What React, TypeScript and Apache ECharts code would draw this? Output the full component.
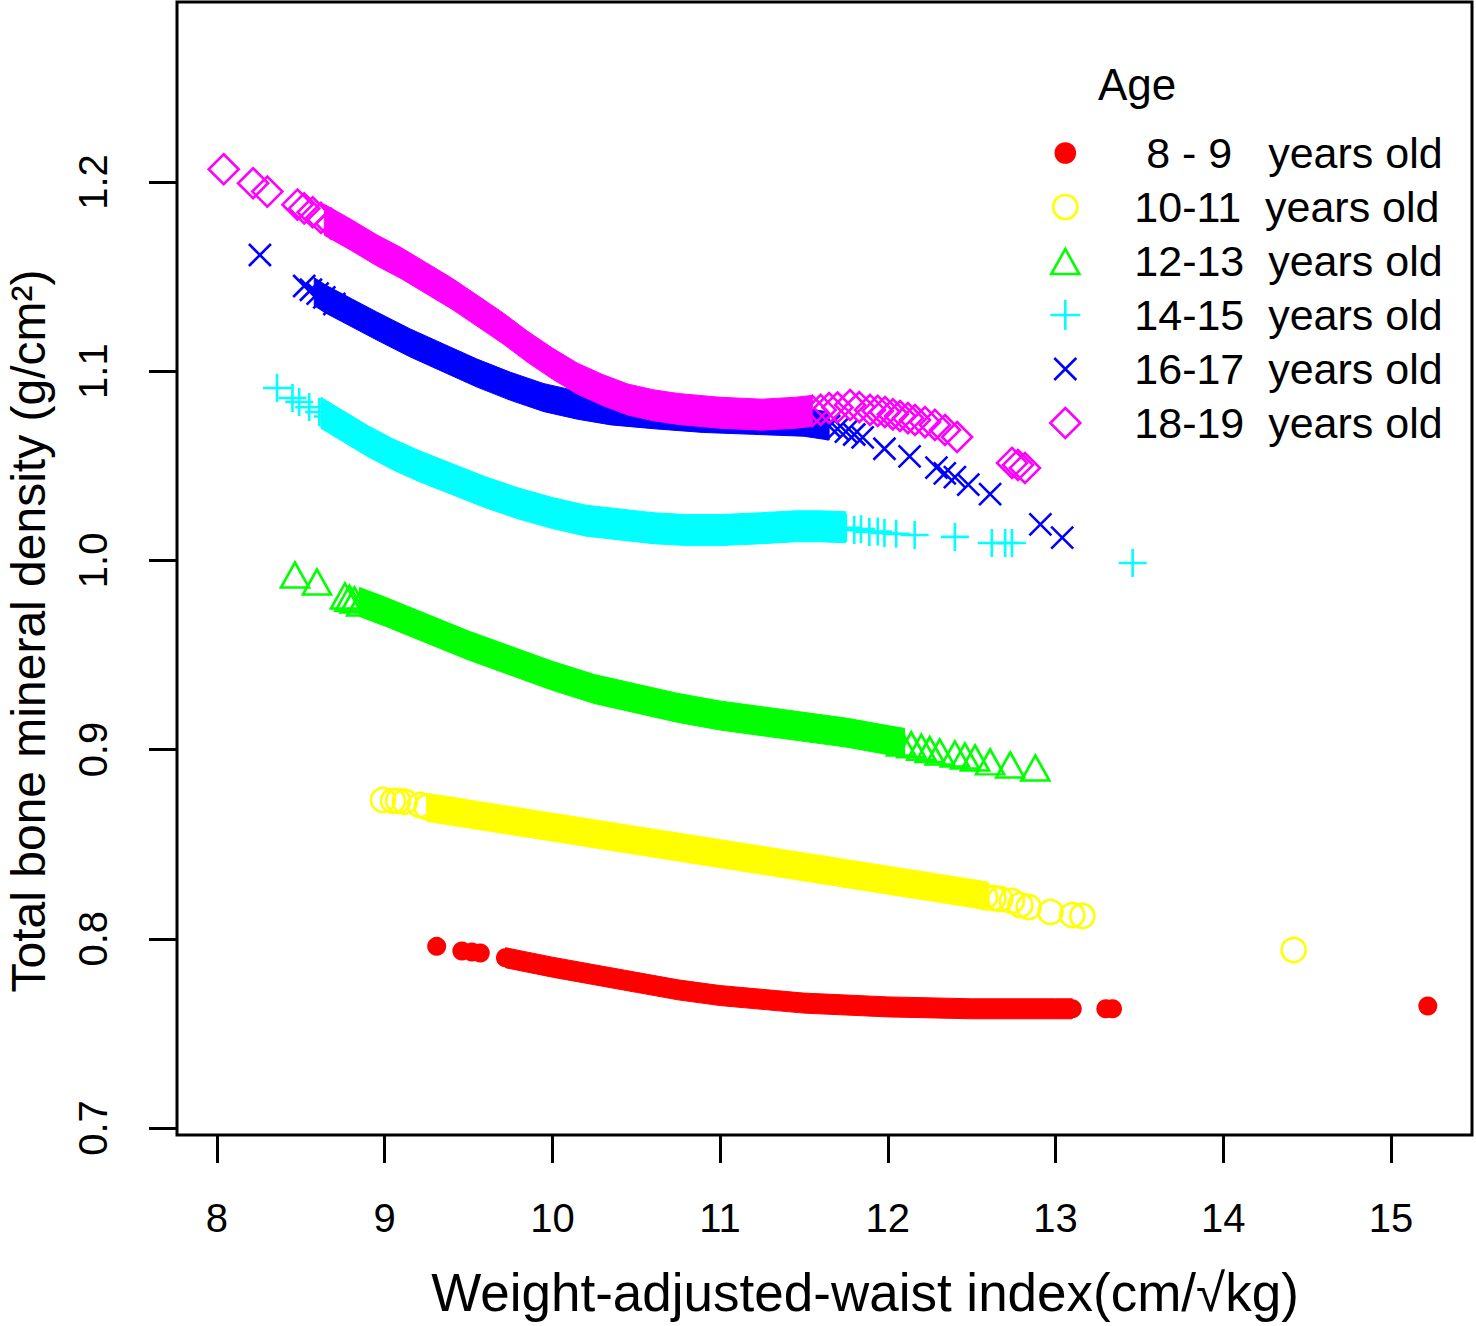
import React, { useEffect, useRef } from "react";
import * as echarts from "echarts";

// ---------- axis ticks ----------
const xTicks = [8, 9, 10, 11, 12, 13, 14, 15];
const yTicks = [0.7, 0.8, 0.9, 1.0, 1.1, 1.2];

// ---------- legend labels ----------
const labels = [
  "\u00a08 - 9 \u00a0 years old",
  "10-11 \u00a0years old",
  "12-13 \u00a0years old",
  "14-15 \u00a0years old",
  "16-17 \u00a0years old",
  "18-19 \u00a0years old",
];

// ---------- data: dense core of each group (x, y) ----------
const band89 = [
  [9.72, 0.790], [10.0, 0.785], [10.25, 0.781], [10.5, 0.777], [10.75, 0.773],
  [11.0, 0.770], [11.25, 0.768], [11.5, 0.766], [11.75, 0.765], [12.0, 0.764],
  [12.5, 0.763], [13.0, 0.763], [13.1, 0.763],
];
const band1011 = [
  [9.25, 0.8695], [9.5, 0.866], [10.0, 0.859], [10.5, 0.852], [11.0, 0.845],
  [11.5, 0.838], [12.0, 0.831], [12.5, 0.824], [12.6, 0.8225],
];
const band1213 = [
  [8.85, 0.978], [9.0, 0.973], [9.25, 0.964], [9.5, 0.955], [9.75, 0.947],
  [10.0, 0.939], [10.25, 0.932], [10.5, 0.927], [10.75, 0.922], [11.0, 0.918],
  [11.25, 0.915], [11.5, 0.912], [11.75, 0.909], [12.0, 0.905], [12.1, 0.9035],
];
const band1415 = [
  [8.62, 1.078], [8.75, 1.071], [8.9, 1.063], [9.05, 1.056], [9.2, 1.050],
  [9.4, 1.043], [9.6, 1.036], [9.8, 1.030], [10.0, 1.025], [10.2, 1.021],
  [10.4, 1.019], [10.6, 1.017], [10.8, 1.016], [11.0, 1.016], [11.25, 1.017],
  [11.45, 1.018], [11.6, 1.018], [11.75, 1.0175],
];
const band1617 = [
  [8.58, 1.142], [8.65, 1.138], [8.8, 1.131], [8.95, 1.124], [9.15, 1.115],
  [9.35, 1.107], [9.55, 1.099], [9.75, 1.092], [9.95, 1.086], [10.15, 1.082],
  [10.35, 1.079], [10.6, 1.077], [10.9, 1.075], [11.2, 1.074], [11.5, 1.073],
  [11.65, 1.071],
];
const band1819 = [
  [8.64, 1.180], [8.8, 1.172], [8.95, 1.164], [9.1, 1.157], [9.25, 1.149],
  [9.4, 1.141], [9.55, 1.132], [9.7, 1.123], [9.85, 1.113], [10.0, 1.104],
  [10.15, 1.096], [10.3, 1.090], [10.45, 1.085], [10.6, 1.082], [10.75, 1.080],
  [11.0, 1.078], [11.25, 1.077], [11.45, 1.078], [11.55, 1.079],
];

// ---------- data: individually visible points (x, y) ----------
const pts89 = [
  [9.31, 0.796], [9.46, 0.7935], [9.52, 0.793], [9.57, 0.7925], [9.72, 0.790],
  [13.05, 0.763], [13.1, 0.763], [13.3, 0.763], [13.34, 0.763], [15.22, 0.7645],
];
const pts1011 = [
  [8.99, 0.8734], [9.05, 0.8729], [9.08, 0.8729], [9.12, 0.8724], [9.21, 0.8707],
  [9.25, 0.8697], [9.33, 0.869], [9.4, 0.868], [12.45, 0.8245], [12.52, 0.8235],
  [12.58, 0.8221], [12.63, 0.8216], [12.67, 0.821], [12.74, 0.820], [12.79, 0.8178],
  [12.84, 0.8168], [12.97, 0.8142], [13.1, 0.8126], [13.16, 0.8121], [14.42, 0.7941],
];
const pts1213 = [
  [8.465, 0.9923], [8.596, 0.9886], [8.763, 0.9812], [8.79, 0.980], [8.82, 0.979],
  [8.86, 0.9775], [12.08, 0.9035], [12.14, 0.9025], [12.2, 0.9012], [12.25, 0.9],
  [12.31, 0.8987], [12.4, 0.8977], [12.46, 0.8966], [12.52, 0.8956], [12.61, 0.8935],
  [12.73, 0.8919], [12.88, 0.8903],
];
const pts1415 = [
  [8.358, 1.0911], [8.45, 1.0858], [8.49, 1.0837], [8.55, 1.081], [8.61, 1.0784],
  [8.66, 1.076], [8.7, 1.0735], [11.75, 1.0172], [11.8, 1.016], [11.84, 1.0165],
  [11.89, 1.015], [11.94, 1.0152], [11.98, 1.0145], [12.05, 1.014], [12.16, 1.0134],
  [12.4, 1.0124], [12.62, 1.0092], [12.7, 1.0092], [12.74, 1.0092], [13.46, 0.9986],
];
const pts1617 = [
  [8.256, 1.1614], [8.52, 1.145], [8.56, 1.143], [8.6, 1.141], [8.64, 1.139],
  [8.7, 1.1355], [11.65, 1.071], [11.7, 1.0695], [11.75, 1.068], [11.8, 1.0665],
  [11.85, 1.065], [11.98, 1.059], [12.13, 1.055], [12.29, 1.049], [12.34, 1.046],
  [12.4, 1.044], [12.48, 1.040], [12.61, 1.035], [12.91, 1.019], [13.04, 1.012],
];
const pts1819 = [
  [8.04, 1.2067], [8.215, 1.1993], [8.30, 1.1949], [8.48, 1.188], [8.52, 1.186],
  [8.57, 1.184], [8.62, 1.181], [8.68, 1.178], [11.55, 1.079], [11.6, 1.0795],
  [11.65, 1.0805], [11.7, 1.0808], [11.775, 1.0821], [11.83, 1.081], [11.894, 1.0795],
  [11.94, 1.079], [11.983, 1.0784], [12.03, 1.0772], [12.073, 1.0763], [12.12, 1.0752],
  [12.162, 1.0742], [12.222, 1.0731], [12.281, 1.0716], [12.341, 1.0689],
  [12.413, 1.0652], [12.741, 1.0515], [12.776, 1.0504], [12.818, 1.0488],
];

const FONT = "'Liberation Sans', Arial, Helvetica, sans-serif";
const PLUS = "path://M0,10H20M10,0V20";
const CROSS = "path://M0,0L20,20M20,0L0,20";

// legend icons (padded in a 30x30 box)
const ICON_DOT = "path://M0,0M30,30M5.5,15A9.5,9.5,0,1,1,24.5,15A9.5,9.5,0,1,1,5.5,15Z";
const ICON_CIRCLE = "path://M0,0M30,30M3,15A12,12,0,1,1,27,15A12,12,0,1,1,3,15Z";
const ICON_TRI = "path://M0,0M30,30M1,28L15,3L29,28Z";
const ICON_PLUS = "path://M0,0M30,30M0,15H30M15,0V30";
const ICON_CROSS = "path://M0,0M30,30M4,4L26,26M26,4L4,26";
const ICON_DIAMOND = "path://M0,0M30,30M15,0L30,15L15,30L0,15Z";

const groups = [
  { name: labels[0], color: "#FF0000", band: band89, pts: pts89, symbol: "circle", size: 19, filled: true, bandH: 20, icon: ICON_DOT },
  { name: labels[1], color: "#FFFF00", band: band1011, pts: pts1011, symbol: "circle", size: 24, filled: false, bandH: 28, icon: ICON_CIRCLE },
  { name: labels[2], color: "#00FF00", band: band1213, pts: pts1213, symbol: "triangle", size: [28, 25], filled: false, bandH: 29, icon: ICON_TRI },
  { name: labels[3], color: "#00FFFF", band: band1415, pts: pts1415, symbol: PLUS, size: 28, filled: false, bandH: 31, icon: ICON_PLUS },
  { name: labels[4], color: "#0000FF", band: band1617, pts: pts1617, symbol: CROSS, size: 22, filled: false, bandH: 28, icon: ICON_CROSS },
  { name: labels[5], color: "#FF00FF", band: band1819, pts: pts1819, symbol: "diamond", size: 30, filled: false, bandH: 31, icon: ICON_DIAMOND },
];

export default function App() {
  const ref = useRef<HTMLDivElement>(null);

  useEffect(() => {
    if (!ref.current) return;
    const chart = echarts.init(ref.current, null, { renderer: "svg" });

    const series: any[] = [];
    groups.forEach((g, i) => {
      const band = g.band;
      const h = g.bandH / 2;
      series.push({
        type: "custom",
        name: "band" + i,
        coordinateSystem: "cartesian2d",
        data: band,
        encode: { x: 0, y: 1 },
        silent: true,
        z: 2 + i * 2,
        renderItem: (params: any, api: any) => {
          if (params.dataIndex !== 0) return null;
          const top = band.map((d) => {
            const p = api.coord(d);
            return [p[0], p[1] - h];
          });
          const bottom = band
            .map((d) => {
              const p = api.coord(d);
              return [p[0], p[1] + h];
            })
            .reverse();
          return {
            type: "polygon",
            shape: { points: top.concat(bottom) },
            style: { fill: g.color, stroke: g.color, lineWidth: 1 },
          };
        },
      });
      series.push({
        type: "scatter",
        name: g.name,
        data: g.pts,
        symbol: g.symbol,
        symbolSize: g.size,
        z: 3 + i * 2,
        itemStyle: g.filled
          ? { color: g.color, borderColor: g.color, borderWidth: 0, opacity: 1 }
          : { color: "rgba(0,0,0,0)", borderColor: g.color, borderWidth: 2.6, opacity: 1 },
        emphasis: { disabled: true },
      });
    });

    chart.setOption({
      animation: false,
      backgroundColor: "#ffffff",
      grid: {
        left: 177,
        top: 2,
        right: 4,
        bottom: 191,
        show: true,
        borderColor: "#000",
        borderWidth: 3,
        backgroundColor: "transparent",
      },
      xAxis: {
        type: "value",
        min: 7.7615,
        max: 15.4836,
        axisLine: { show: false },
        splitLine: { show: false },
        axisTick: {
          show: true,
          customValues: xTicks,
          length: 28,
          inside: false,
          lineStyle: { color: "#000", width: 3 },
        },
        axisLabel: {
          customValues: xTicks,
          fontSize: 40,
          fontFamily: FONT,
          color: "#000",
          margin: 63,
        },
      },
      yAxis: {
        type: "value",
        min: 0.6963,
        max: 1.2951,
        axisLine: { show: false },
        splitLine: { show: false },
        axisTick: {
          show: true,
          customValues: yTicks,
          length: 28,
          inside: false,
          lineStyle: { color: "#000", width: 3 },
        },
        axisLabel: {
          customValues: yTicks,
          rotate: 90,
          fontSize: 40,
          fontFamily: FONT,
          color: "#000",
          margin: 64,
          formatter: (v: number) => v.toFixed(1),
        },
      },
      legend: {
        orient: "vertical",
        left: 1044,
        top: 126,
        itemWidth: 30,
        itemHeight: 30,
        itemGap: 10,
        selectedMode: false,
        data: groups.map((g) => ({ name: g.name, icon: g.icon })),
        itemStyle: { borderWidth: 2.6 },
        textStyle: {
          fontSize: 43,
          fontFamily: FONT,
          color: "#000",
          lineHeight: 44,
          padding: [0, 0, 0, 49],
        },
      },
      graphic: [
        {
          type: "text",
          left: 1098,
          top: 62,
          style: { text: "Age", fontSize: 44, fontFamily: FONT, fill: "#000" },
        },
        {
          type: "text",
          x: 865,
          y: 1292,
          style: {
            text: "Weight-adjusted-waist index(cm/\u221Akg)",
            fontSize: 53,
            fontFamily: FONT,
            fill: "#000",
            textAlign: "center",
            textVerticalAlign: "middle",
            align: "center",
            verticalAlign: "middle",
          },
        },
        {
          type: "text",
          x: 28,
          y: 631,
          rotation: Math.PI / 2,
          style: {
            text: "Total bone mineral density (g/cm\u00B2)",
            fontSize: 48,
            fontFamily: FONT,
            fill: "#000",
            textAlign: "center",
            textVerticalAlign: "middle",
            align: "center",
            verticalAlign: "middle",
          },
        },
      ],
      series,
    });

    return () => chart.dispose();
  }, []);

  return (
    <div
      ref={ref}
      style={{ position: "absolute", left: 0, top: 0, width: 1476, height: 1326, background: "#fff" }}
    />
  );
}
